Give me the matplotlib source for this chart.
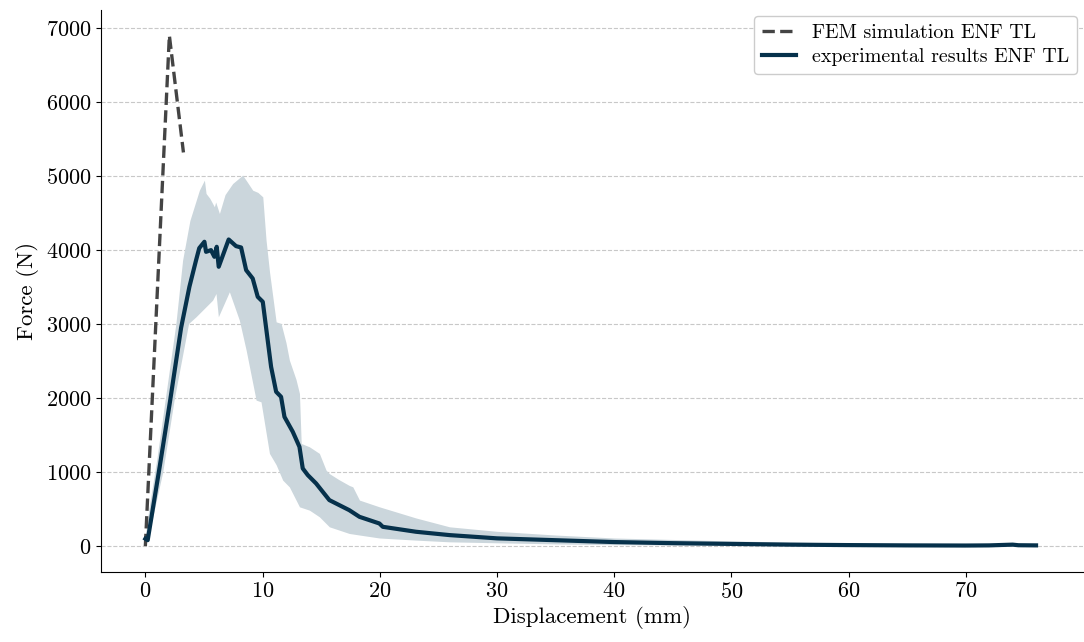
import numpy as np
import matplotlib
matplotlib.use("Agg")
import matplotlib.pyplot as plt

# FEM simulation (dashed)
fem_disp = [0.0, 2.05, 2.2, 3.25]
fem_force = [0, 6900, 6700, 5320]

# experimental mean curve
exp_disp = [0.0, 0.2, 1.2, 2.1, 3.05, 3.76, 4.33, 4.6, 5.04, 5.18, 5.6, 5.89, 6.09, 6.26, 7.11,
            7.74, 8.17, 8.6, 9.16, 9.59, 10.02, 10.73, 11.16, 11.58, 11.87, 12.58,
            13.15, 13.43, 13.86, 14.57, 15.7, 17.4, 18.27, 19.97, 20.26, 23.1,
            25.95, 30, 35, 40, 45, 50, 55, 60, 65, 70, 72, 74, 74.5, 76]
exp_force = [100, 80, 1050, 1950, 2950, 3505, 3865, 4027, 4113, 3977, 4000, 3910, 4045, 3775, 4144,
             4054, 4036, 3730, 3617, 3369, 3302, 2423, 2086, 2018, 1747, 1545,
             1342, 1050, 960, 847, 622, 486, 396, 306, 261, 194,
             149, 105, 80, 55, 40, 30, 20, 14, 10, 8, 10, 20, 12, 10]

# scatter band (upper edge)
hi_disp = [0.0, 0.3, 1.0, 1.8, 2.6, 3.18, 3.8, 4.61, 5.04, 5.18, 5.5, 5.89, 6.0, 6.32,
           6.8, 7.45, 8.3, 8.7, 9.16, 9.6, 10.02, 10.3, 10.6, 11.16, 11.58,
           12.0, 12.29, 12.86, 13.15, 13.3, 14.0, 14.85, 15.42, 15.7, 16.5,
           17.4, 17.7, 18.27, 19.97, 23.1, 25.95, 30, 35, 40, 50, 60, 70, 76]
hi_force = [150, 500, 1200, 2100, 3000, 3865, 4400, 4810, 4946, 4766, 4700, 4586, 4650, 4495,
            4750, 4900, 5013, 4920, 4810, 4780, 4720, 4135, 3700, 3031, 3009,
            2750, 2514, 2250, 2063, 1387, 1342, 1253, 1027, 980, 900,
            820, 801, 622, 531, 380, 261, 200, 150, 110, 70, 40, 25, 20]

# scatter band (lower edge)
lo_disp = [0.0, 0.5, 1.48, 2.48, 3.69, 4.32, 4.89, 5.74, 6.03, 6.23, 7.17, 8.02, 8.6,
           9.45, 9.87, 10.59, 11.16, 11.72, 12.29, 12.86, 13.15, 14.0, 14.85,
           15.7, 17.4, 18.27, 19.97, 23.1, 25.95, 30, 35, 40, 50, 60, 70, 76]
lo_force = [20, 300, 1000, 2000, 3009, 3099, 3189, 3324, 3414, 3099, 3437, 3054, 2649,
            1973, 1950, 1253, 1100, 892, 800, 622, 531, 486, 396,
            261, 171, 150, 110, 81, 58, 45, 30, 20, 10, 5, 3, 2]

plt.rcParams["font.family"] = "serif"
plt.rcParams["font.serif"] = ["cmr10"]
plt.rcParams["mathtext.fontset"] = "cm"
plt.rcParams["axes.unicode_minus"] = False
plt.rcParams["axes.formatter.use_mathtext"] = True

# common x grid for the band
band_x = np.union1d(hi_disp, lo_disp)
band_hi = np.interp(band_x, hi_disp, hi_force)
band_lo = np.interp(band_x, lo_disp, lo_force)

fig, ax = plt.subplots(figsize=(10.84, 6.42), dpi=100)
fig.subplots_adjust(left=0.093, right=0.999, top=0.985, bottom=0.109)

ax.fill_between(band_x, band_lo, band_hi, color="#cbd6dc", linewidth=0, zorder=1)
ax.plot(fem_disp, fem_force, "--", color="#444444", lw=2.4, label="FEM simulation ENF TL", zorder=3)
ax.plot(exp_disp, exp_force, "-", color="#06314b", lw=3.0, label="experimental results ENF TL", zorder=4)

ax.set_xlim(-3.8, 80)
ax.set_ylim(-350, 7250)
ax.set_xticks(np.arange(0, 71, 10))
ax.set_yticks(np.arange(0, 7001, 1000))
ax.yaxis.grid(True, linestyle="--", color="#c8c8c8", lw=0.8)
ax.set_axisbelow(True)
for s in ["top", "right"]:
    ax.spines[s].set_visible(False)
ax.tick_params(labelsize=16)
ax.set_xlabel("Displacement (mm)", fontsize=16.5, labelpad=3)
ax.set_ylabel("Force (N)", fontsize=16.5, labelpad=5)
ax.legend(loc="upper right", fontsize=14.4, frameon=True, fancybox=True, framealpha=1,
          edgecolor="#cccccc", handlelength=1.7, borderaxespad=0.3, labelspacing=0.3)

fig.savefig("out.png", dpi=100)
